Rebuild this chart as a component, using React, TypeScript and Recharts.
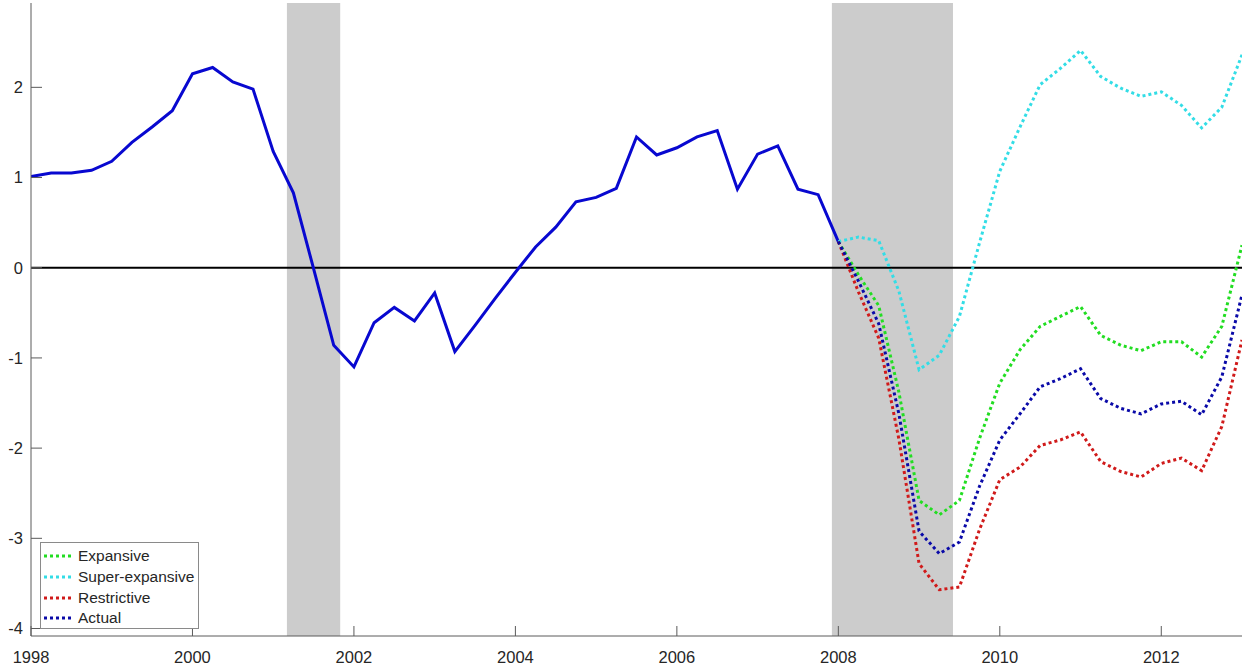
import { LineChart, Line, XAxis, YAxis, ReferenceArea, ReferenceLine } from 'recharts'

// quarterly index, actual path 1998Q1 - 2008Q1
const actualStart = 1998
const actual = [
  1.01, 1.05, 1.05, 1.08,
  1.18, 1.39, 1.56, 1.74,
  2.15, 2.22, 2.06, 1.98,
  1.29, 0.83, -0.01, -0.86,
  -1.1, -0.61, -0.44, -0.59,
  -0.28, -0.93, -0.64, -0.34,
  -0.05, 0.23, 0.45, 0.73,
  0.78, 0.88, 1.45, 1.25,
  1.33, 1.45, 1.52, 0.87,
  1.26, 1.35, 0.87, 0.81,
  0.29,
]

// policy scenarios, 2008Q1 - 2013Q1
const scenarioStart = 2008
const expansive = [0.29, -0.08, -0.42, -1.38, -2.58, -2.74, -2.58, -1.89, -1.28, -0.91, -0.65, -0.54, -0.43, -0.75, -0.86, -0.92, -0.82, -0.82, -0.99, -0.65, 0.25]
const superExpansive = [0.29, 0.34, 0.3, -0.26, -1.13, -0.97, -0.54, 0.28, 1.07, 1.56, 2.03, 2.21, 2.41, 2.12, 1.99, 1.9, 1.95, 1.8, 1.55, 1.78, 2.36]
const restrictive = [0.29, -0.27, -0.78, -1.9, -3.28, -3.57, -3.54, -2.9, -2.35, -2.21, -1.97, -1.91, -1.82, -2.15, -2.26, -2.32, -2.17, -2.11, -2.25, -1.76, -0.8]
const actualSim = [0.29, -0.15, -0.62, -1.62, -2.92, -3.17, -3.04, -2.42, -1.91, -1.62, -1.32, -1.23, -1.12, -1.45, -1.56, -1.62, -1.51, -1.48, -1.63, -1.21, -0.3]

// recession bands (start, end)
const recessions = [
  [2001.17, 2001.83],
  [2007.92, 2009.42],
]

const xTicks = [1998, 2000, 2002, 2004, 2006, 2008, 2010, 2012]
const yTicks = [-4, -3, -2, -1, 0, 1, 2]

const legendItems = [
  { name: 'Expansive', color: '#22dd22' },
  { name: 'Super-expansive', color: '#33dde6' },
  { name: 'Restrictive', color: '#d01a1a' },
  { name: 'Actual', color: '#0a0aa8' },
]

const rows = new Map<number, any>()
const put = (t: number, key: string, v: number) => {
  const k = Math.round(t * 100) / 100
  if (!rows.has(k)) rows.set(k, { t: k })
  rows.get(k)[key] = v
}
actual.forEach((v, i) => put(actualStart + i / 4, 'actual', v))
expansive.forEach((v, i) => put(scenarioStart + i / 4, 'expansive', v))
superExpansive.forEach((v, i) => put(scenarioStart + i / 4, 'superExpansive', v))
restrictive.forEach((v, i) => put(scenarioStart + i / 4, 'restrictive', v))
actualSim.forEach((v, i) => put(scenarioStart + i / 4, 'actualSim', v))
const data = [...rows.values()].sort((a, b) => a.t - b.t)

const FONT = '"Liberation Sans", Arial, Helvetica, sans-serif'
const AXIS = '#5a5a5a'
const TEXT = '#262626'

const BottomTick = (p: any) => (
  <g>
    <line x1={p.x} x2={p.x} y1={p.y} y2={p.y - 10} stroke={AXIS} />
    <text x={p.x} y={p.y + 27} textAnchor="middle" fill={TEXT} fontSize={16.5} fontFamily={FONT}>
      {p.payload.value}
    </text>
  </g>
)
const TopTick = (p: any) => <line x1={p.x} x2={p.x} y1={p.y} y2={p.y + 10} stroke={AXIS} />
const LeftTick = (p: any) => (
  <g>
    <line x1={p.x} x2={p.x + 11} y1={p.y} y2={p.y} stroke={AXIS} />
    <text x={p.x - 8} y={p.y} dy="0.36em" textAnchor="end" fill={TEXT} fontSize={16.5} fontFamily={FONT}>
      {p.payload.value}
    </text>
  </g>
)
const RightTick = (p: any) => <line x1={p.x} x2={p.x - 11} y1={p.y} y2={p.y} stroke={AXIS} />

const yDomain: [number, number] = [-4.083, 2.935]
const xDomain: [number, number] = [1998, 2013]

export default function App() {
  return (
    <div style={{ position: 'absolute', left: 0, top: 0, width: 1243, height: 667, background: '#fff' }}>
      <LineChart width={1243} height={667} data={data} margin={{ top: 3, right: 1, bottom: 0, left: 0 }}>
        <XAxis
          dataKey="t" type="number" domain={xDomain} ticks={xTicks} scale="linear" allowDataOverflow
          height={31} tickSize={0} tickMargin={0} tickLine={false} tick={BottomTick}
          axisLine={{ stroke: AXIS }} interval={0}
        />
        <XAxis
          xAxisId="top" orientation="top" dataKey="t" type="number" domain={xDomain} ticks={xTicks}
          scale="linear" allowDataOverflow height={0} tickSize={0} tickMargin={0} tickLine={false}
          tick={TopTick} axisLine={{ stroke: AXIS }} interval={0}
        />
        <YAxis
          type="number" domain={yDomain} ticks={yTicks} scale="linear" allowDataOverflow width={31}
          tickSize={0} tickMargin={0} tickLine={false} tick={LeftTick} axisLine={{ stroke: AXIS }} interval={0}
        />
        <YAxis
          yAxisId="right" orientation="right" type="number" domain={yDomain} ticks={yTicks} scale="linear"
          allowDataOverflow width={0} tickSize={0} tickMargin={0} tickLine={false} tick={RightTick}
          axisLine={{ stroke: AXIS }} interval={0}
        />
        {recessions.map(([a, b]) => (
          <ReferenceArea key={a} x1={a} x2={b} fill="#cccccc" fillOpacity={1} stroke="none" zIndex={-50} />
        ))}
        <ReferenceLine y={0} stroke="#000" strokeWidth={2} zIndex={50} />
        <Line dataKey="actual" stroke="#0808d0" strokeWidth={3} dot={false} isAnimationActive={false} />
        <Line dataKey="expansive" stroke={legendItems[0].color} strokeWidth={3} strokeDasharray="3 3" dot={false} isAnimationActive={false} />
        <Line dataKey="superExpansive" stroke={legendItems[1].color} strokeWidth={3} strokeDasharray="3 3" dot={false} isAnimationActive={false} />
        <Line dataKey="restrictive" stroke={legendItems[2].color} strokeWidth={3} strokeDasharray="3 3" dot={false} isAnimationActive={false} />
        <Line dataKey="actualSim" stroke={legendItems[3].color} strokeWidth={3} strokeDasharray="3 3" dot={false} isAnimationActive={false} />
      </LineChart>
      <div
        style={{
          position: 'absolute', left: 40, top: 542, width: 157, height: 85,
          border: '1px solid #8a8a8a', background: '#fff', fontFamily: FONT, fontSize: 15.5, color: TEXT,
        }}
      >
        {legendItems.map((it, i) => (
          <div key={it.name} style={{ position: 'absolute', left: 0, top: 3 + i * 20.8, height: 20, width: 157 }}>
            <svg width={34} height={20} style={{ position: 'absolute', left: 2, top: 0 }}>
              <line x1={1} x2={31} y1={10} y2={10} stroke={it.color} strokeWidth={3} strokeDasharray="3 3" />
            </svg>
            <span style={{ position: 'absolute', left: 37, top: 1, lineHeight: '18px', whiteSpace: 'nowrap' }}>{it.name}</span>
          </div>
        ))}
      </div>
    </div>
  )
}
